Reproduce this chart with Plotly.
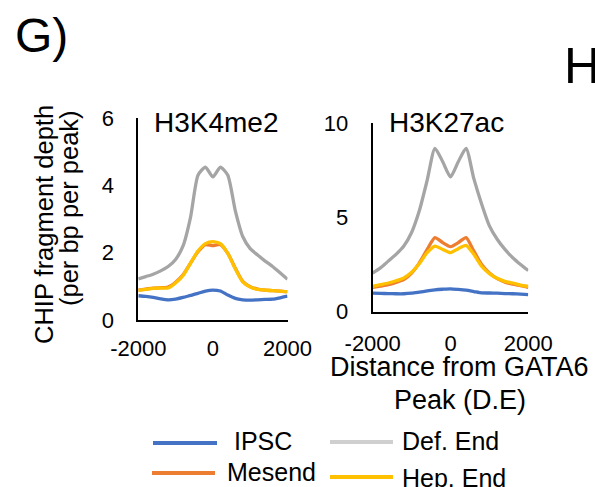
import plotly.graph_objects as go

# ---------------- data ----------------
positions = [-2000, -1800, -1600, -1400, -1200, -1000, -800, -600, -400, -200, 0,
             200, 400, 600, 800, 1000, 1200, 1400, 1600, 1800, 2000]

series_names = ["IPSC", "Mesend", "Def. End", "Hep. End"]
series_colors = ["#4472C4", "#ED7D31", "#A5A5A5", "#FFC000"]
legend_swatch_colors = ["#4472C4", "#ED7D31", "#CFCFCF", "#FFC000"]

# H3K4me2 panel
k4_ipsc = [0.72, 0.70, 0.67, 0.63, 0.60, 0.62, 0.67, 0.73, 0.79, 0.86, 0.89,
           0.86, 0.74, 0.64, 0.60, 0.59, 0.60, 0.61, 0.62, 0.66, 0.71]
k4_mesend = [0.89, 0.92, 0.95, 0.96, 0.98, 1.12, 1.34, 1.69, 2.03, 2.24, 2.21,
             2.24, 1.98, 1.54, 1.15, 0.99, 0.92, 0.89, 0.87, 0.86, 0.84]
k4_defend = [1.22, 1.29, 1.36, 1.46, 1.59, 1.80, 2.20, 3.05, 4.30, 4.54, 4.25,
             4.54, 4.30, 3.25, 2.48, 2.12, 1.93, 1.75, 1.59, 1.40, 1.21]
k4_hepend = [0.88, 0.91, 0.94, 0.95, 0.95, 1.10, 1.32, 1.69, 2.05, 2.27, 2.33,
             2.27, 1.98, 1.52, 1.13, 0.98, 0.91, 0.89, 0.87, 0.86, 0.84]

# H3K27ac panel
k27_ipsc = [0.98, 0.97, 0.96, 0.95, 0.95, 0.98, 1.04, 1.10, 1.16, 1.19, 1.21,
            1.18, 1.14, 1.07, 1.00, 0.99, 0.98, 0.96, 0.95, 0.93, 0.91]
k27_mesend = [1.29, 1.36, 1.43, 1.55, 1.70, 2.05, 2.59, 3.30, 3.93, 3.66, 3.45,
              3.66, 3.93, 3.21, 2.50, 2.05, 1.75, 1.57, 1.46, 1.38, 1.29]
k27_defend = [2.05, 2.32, 2.68, 3.04, 3.48, 4.20, 5.36, 6.96, 8.66, 7.95, 7.14,
              7.95, 8.66, 7.05, 5.71, 4.55, 3.84, 3.30, 2.86, 2.50, 2.18]
k27_hepend = [1.34, 1.43, 1.52, 1.64, 1.79, 2.09, 2.55, 3.13, 3.48, 3.30, 3.13,
              3.34, 3.52, 3.04, 2.41, 2.02, 1.77, 1.61, 1.52, 1.41, 1.34]

x_ticks = [-2000, 0, 2000]
x_tick_labels = ["-2000", "0", "2000"]
k4_yticks = [0, 2, 4, 6]
k27_yticks = [0, 5, 10]

panel_titles = ["H3K4me2", "H3K27ac"]
y_title_lines = ["CHIP fragment depth", "(per bp per peak)"]
x_title_lines = ["Distance from GATA6", "Peak (D.E)"]

# ---------------- figure ----------------
W, H = 595, 487
FONT = "Liberation Sans, Arial, sans-serif"

def px_x(p):
    return p / W

def px_y(p):
    return 1 - p / H

fig = go.Figure()

k4 = [k4_ipsc, k4_mesend, k4_defend, k4_hepend]
k27 = [k27_ipsc, k27_mesend, k27_defend, k27_hepend]

for name, col, ys in zip(series_names, series_colors, k4):
    fig.add_trace(go.Scatter(x=positions, y=ys, mode="lines", name=name,
                             line=dict(color=col, width=3.3, shape="spline", smoothing=0.6),
                             xaxis="x", yaxis="y", showlegend=False))
for name, col, ys in zip(series_names, series_colors, k27):
    fig.add_trace(go.Scatter(x=positions, y=ys, mode="lines", name=name,
                             line=dict(color=col, width=3.3, shape="spline", smoothing=0.6),
                             xaxis="x2", yaxis="y2", showlegend=False))

axis_common = dict(showline=True, linecolor="black", linewidth=2, showgrid=False,
                   zeroline=False, ticks="", automargin=False,
                   tickfont=dict(family=FONT, size=22, color="black"))

fig.update_layout(
    template="none",
    width=W, height=H,
    margin=dict(l=0, r=0, t=0, b=0, pad=0),
    paper_bgcolor="white", plot_bgcolor="white",
    font=dict(family=FONT, color="black"),
    showlegend=False,
    xaxis=dict(domain=[px_x(138.3), px_x(287.5)], range=[-2000, 2000], tickvals=x_ticks,
               ticktext=x_tick_labels, anchor="y", ticklabelstandoff=8, **axis_common),
    yaxis=dict(domain=[px_y(320), px_y(118)], range=[0, 6], tickvals=k4_yticks,
               anchor="x", ticklabelstandoff=18, **axis_common),
    xaxis2=dict(domain=[px_x(372.7), px_x(528.3)], range=[-2000, 2000], tickvals=x_ticks,
                ticktext=x_tick_labels, anchor="y2", ticklabelstandoff=11, **axis_common),
    yaxis2=dict(domain=[px_y(311.7), px_y(123)], range=[0, 10], tickvals=k27_yticks,
                anchor="x2", ticklabelstandoff=18, **axis_common),
)

annotations = [
    dict(text="G)", x=px_x(13), y=px_y(35), xanchor="left", yanchor="middle", size=48),
    dict(text="H", x=px_x(562), y=px_y(66), xanchor="left", yanchor="middle", size=50),
    dict(text=panel_titles[0], x=px_x(216), y=px_y(122), xanchor="center", yanchor="middle", size=28),
    dict(text=panel_titles[1], x=px_x(446), y=px_y(122), xanchor="center", yanchor="middle", size=28),
    dict(text=x_title_lines[0], x=px_x(459), y=px_y(367), xanchor="center", yanchor="middle", size=27),
    dict(text=x_title_lines[1], x=px_x(460), y=px_y(400), xanchor="center", yanchor="middle", size=27),
]
for a in annotations:
    fig.add_annotation(text=a["text"], x=a["x"], y=a["y"], xref="paper", yref="paper",
                       xanchor=a["xanchor"], yanchor=a["yanchor"], showarrow=False,
                       font=dict(family=FONT, size=a["size"], color="black"))

fig.add_annotation(text=y_title_lines[0], x=px_x(44), y=px_y(225), xref="paper", yref="paper",
                   textangle=-90, showarrow=False, xanchor="center", yanchor="middle",
                   font=dict(family=FONT, size=25.5, color="black"))
fig.add_annotation(text=y_title_lines[1], x=px_x(69), y=px_y(208), xref="paper", yref="paper",
                   textangle=-90, showarrow=False, xanchor="center", yanchor="middle",
                   font=dict(family=FONT, size=25.5, color="black"))

# ---------------- legend (drawn by hand, two rows) ----------------
legend_layout = {
    # name: (line x0, line x1, line y, text left x, text center y)
    "IPSC": (153, 217, 443, 232, 441),
    "Def. End": (330, 393, 442, 400, 441),
    "Mesend": (152, 215, 473, 225, 472),
    "Hep. End": (330, 393, 477, 400, 478),
}
for name, col in zip(series_names, legend_swatch_colors):
    x0, x1, ly, tx, ty = legend_layout[name]
    fig.add_shape(type="line", xref="paper", yref="paper",
                  x0=px_x(x0), x1=px_x(x1), y0=px_y(ly), y1=px_y(ly),
                  line=dict(color=col, width=4))
    fig.add_annotation(text=name, x=px_x(tx), y=px_y(ty), xref="paper", yref="paper",
                       xanchor="left", yanchor="middle", showarrow=False,
                       font=dict(family=FONT, size=25, color="black"))

fig.write_html(
    "out.html",
    config={"displayModeBar": False},
    post_script="document.body.style.margin='0';document.body.style.overflow='hidden';",
)
